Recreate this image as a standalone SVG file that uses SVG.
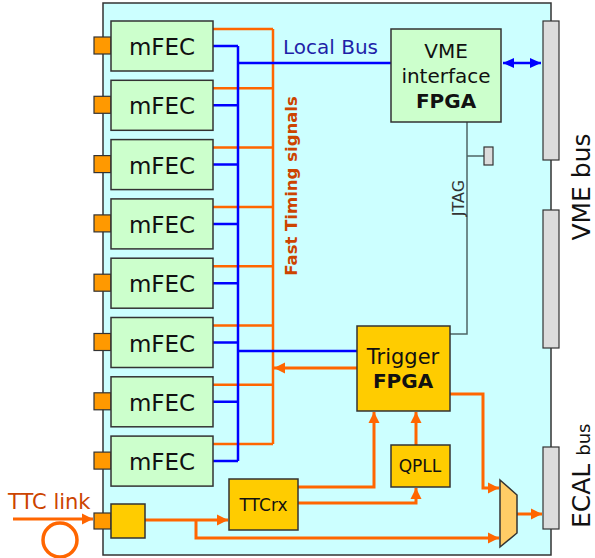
<svg xmlns="http://www.w3.org/2000/svg" width="595" height="558" viewBox="0 0 595 558">
<defs>
<marker id="ao" markerUnits="userSpaceOnUse" markerWidth="12" markerHeight="12" refX="11" refY="6" orient="auto-start-reverse"><path d="M0,0.5 L11,6 L0,11.5 z" fill="#ff6600"/></marker>
<marker id="ab" markerUnits="userSpaceOnUse" markerWidth="12" markerHeight="12" refX="11" refY="6" orient="auto-start-reverse"><path d="M0,1 L11,6 L0,11 z" fill="#0000ff"/></marker>
</defs>
<style>
.box{stroke:#333;stroke-width:1.5}
.fec{fill:#ccffcc}
.yel{fill:#ffcc00}
.con{fill:#ff9900;stroke:#333;stroke-width:1.2}
.bar{fill:#dcdcdc;stroke:#333;stroke-width:1.2}
.or{fill:none;stroke:#ff6600;stroke-width:3}
.ot{fill:none;stroke:#ff6600;stroke-width:2.5}
.bl{fill:none;stroke:#0000ff;stroke-width:2.5}
.gr{fill:none;stroke:#4d6666;stroke-width:1.5}
text{font-family:"DejaVu Sans",Verdana,sans-serif;fill:#111}
.t{text-anchor:middle}
</style>
<rect id="board" x="103" y="3" width="448" height="552" fill="#ccffff" stroke="#333" stroke-width="1.5"/>
<g id="connectors">
<path class="ot" d="M213 29 H273 M213 88.3 H273 M213 147.6 H273 M213 206.9 H273 M213 266.2 H273 M213 325.5 H273 M213 384.8 H273 M213 444.1 H273 M273 29 V444.1"/>
<path class="bl" d="M213 46 H238 M213 105.3 H238 M213 164.6 H238 M213 223.9 H238 M213 283.2 H238 M213 342.5 H238 M213 401.8 H238 M213 461.1 H238 M238 46 V461.1"/>
<path class="bl" d="M238 63 H391 M238 351 H357"/>
<path class="bl" d="M503 63 H541" marker-start="url(#ab)" marker-end="url(#ab)"/>
<path class="or" d="M357 368 H274" marker-end="url(#ao)"/>
<path class="gr" d="M467 122 V334 H450 M467 156 H484"/>
<path class="or" d="M450 394 H483 V488 H499" marker-end="url(#ao)"/>
<path class="or" d="M416 445 V412" marker-end="url(#ao)"/>
<path class="or" d="M298 487 H374 V412" marker-end="url(#ao)"/>
<path class="or" d="M298 503 H416 V488" marker-end="url(#ao)"/>
<path class="or" d="M145 520 H228" marker-end="url(#ao)"/>
<path class="or" d="M196 520 V538 H499" marker-end="url(#ao)"/>
<path class="or" d="M517 514 H542" marker-end="url(#ao)"/>
<path class="or" d="M13 519 H93" stroke-width="3.5" marker-end="url(#ao)"/>
</g>
<g id="mfec1"><rect class="con" x="94" y="37" width="17" height="17"/><rect class="box fec" x="111" y="21" width="102" height="50"/><text class="t" x="162" y="55" font-size="23">mFEC</text></g>
<g id="mfec2"><rect class="con" x="94" y="96.3" width="17" height="17"/><rect class="box fec" x="111" y="80.3" width="102" height="50"/><text class="t" x="162" y="114.3" font-size="23">mFEC</text></g>
<g id="mfec3"><rect class="con" x="94" y="155.6" width="17" height="17"/><rect class="box fec" x="111" y="139.6" width="102" height="50"/><text class="t" x="162" y="173.6" font-size="23">mFEC</text></g>
<g id="mfec4"><rect class="con" x="94" y="214.9" width="17" height="17"/><rect class="box fec" x="111" y="198.9" width="102" height="50"/><text class="t" x="162" y="232.9" font-size="23">mFEC</text></g>
<g id="mfec5"><rect class="con" x="94" y="274.2" width="17" height="17"/><rect class="box fec" x="111" y="258.2" width="102" height="50"/><text class="t" x="162" y="292.2" font-size="23">mFEC</text></g>
<g id="mfec6"><rect class="con" x="94" y="333.5" width="17" height="17"/><rect class="box fec" x="111" y="317.5" width="102" height="50"/><text class="t" x="162" y="351.5" font-size="23">mFEC</text></g>
<g id="mfec7"><rect class="con" x="94" y="392.8" width="17" height="17"/><rect class="box fec" x="111" y="376.8" width="102" height="50"/><text class="t" x="162" y="410.8" font-size="23">mFEC</text></g>
<g id="mfec8"><rect class="con" x="94" y="452.1" width="17" height="17"/><rect class="box fec" x="111" y="436.1" width="102" height="50"/><text class="t" x="162" y="470.1" font-size="23">mFEC</text></g>
<g id="localbus"><text x="283" y="54" font-size="20" style="fill:#1f1fa8">Local Bus</text></g>
<g id="fast"><text class="t" transform="translate(297 186) rotate(-90)" font-size="16.5" font-weight="bold" style="fill:#cc4400">Fast Timing signals</text></g>
<g id="vmefpga"><rect class="box fec" x="391" y="29" width="110" height="93"/><text class="t" x="446" y="58" font-size="20">VME</text><text class="t" x="446" y="83" font-size="20">interface</text><text class="t" x="446" y="108" font-size="20" font-weight="bold">FPGA</text></g>
<g id="vmebus"><rect class="bar" x="543" y="21" width="16" height="139"/><rect class="bar" x="543" y="210" width="16" height="138"/><text class="t" transform="translate(590 187) rotate(-90)" font-size="25">VME bus</text></g>
<g id="ecalbus"><rect class="bar" x="543" y="447" width="16" height="82"/><text transform="translate(590 528) rotate(-90)" font-size="25">ECAL <tspan font-size="18">bus</tspan></text></g>
<g id="jtag"><rect class="bar" x="484" y="147" width="9" height="18"/><text class="t" transform="translate(464 198) rotate(-90)" font-size="16" style="fill:#333">JTAG</text></g>
<g id="trigger"><rect class="box yel" x="357" y="326" width="93" height="85"/><text class="t" x="403" y="364" font-size="21">Trigger</text><text class="t" x="403" y="388" font-size="20" font-weight="bold">FPGA</text></g>
<g id="qpll"><rect class="box yel" x="391" y="445" width="59" height="42"/><text class="t" x="420" y="472" font-size="17">QPLL</text></g>
<g id="ttcrx"><rect class="box yel" x="229" y="479" width="69" height="51"/><text class="t" x="263.5" y="511" font-size="17">TTCrx</text></g>
<g id="rx"><rect class="con" x="94" y="513" width="17" height="16"/><rect class="box yel" x="111" y="504" width="34" height="34"/></g>
<g id="mux"><polygon points="500,480 517,495 517,533 500,547" fill="#ffcc66" stroke="#333" stroke-width="1.5"/></g>
<g id="ttclink"><text x="8" y="509" font-size="21" style="fill:#cc4400">TTC link</text><circle cx="60" cy="540" r="17" fill="none" stroke="#ff6600" stroke-width="3.5"/></g>
</svg>
